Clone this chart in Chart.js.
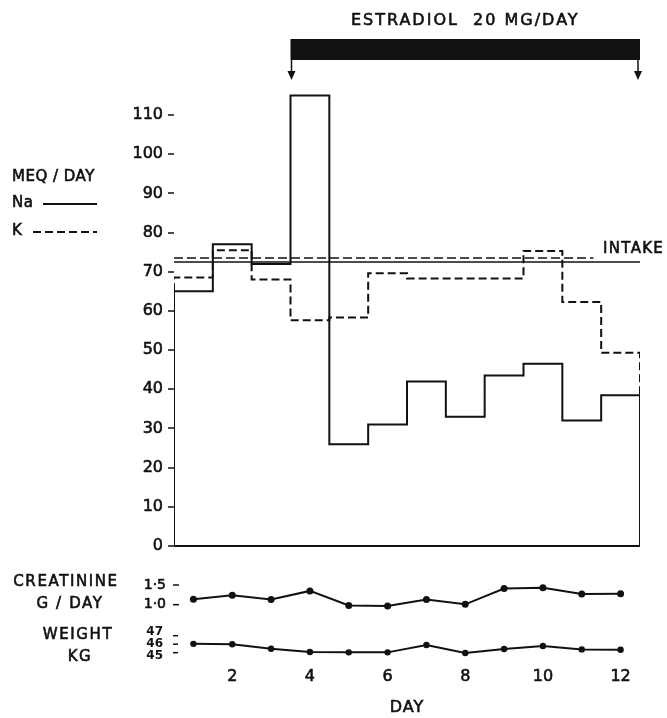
<!DOCTYPE html>
<html>
<head>
<meta charset="utf-8">
<title>Estradiol balance study</title>
<script src="https://cdn.jsdelivr.net/npm/chart.js@4.4.1/dist/chart.umd.min.js"></script>
<style>
  html, body { margin: 0; padding: 0; background: #fff; }
  #wrap { width: 667px; height: 718px; }
</style>
</head>
<body>
<div id="wrap"><canvas id="balanceChart" width="667" height="718"></canvas></div>
<script>
// Study days
const days = [1, 2, 3, 4, 5, 6, 7, 8, 9, 10, 11, 12];
const dayTicks = [2, 4, 6, 8, 10, 12];

// Urinary excretion, mEq/day
const naExcretion = [65, 77, 72, 115, 26, 31, 42, 33, 43.5, 46.5, 32, 38.5];
const kExcretion = [68.5, 75.5, 68, 57.6, 58.3, 69.6, 68.3, 68.3, 68.3, 75.3, 62.3, 49.3];
const meqTicks = [0, 10, 20, 30, 40, 50, 60, 70, 80, 90, 100, 110];

// Dietary intake, mEq/day (K line stops before the label)
const naIntake = 72.5;
const kIntake = 73.5;
const kIntakeEnd = 11.3;

// Creatinine g/day and body weight kg
const creatinine = [1.14, 1.24, 1.13, 1.35, 0.98, 0.97, 1.13, 1.01, 1.41, 1.43, 1.27, 1.28];
const weight = [46.04, 46.0, 45.47, 45.08, 45.04, 45.04, 45.9, 44.96, 45.43, 45.78, 45.39, 45.35];
const creatinineTicks = [1.0, 1.5];
const creatinineTickLabels = ["1·0", "1·5"];
const weightTicks = [45, 46, 47];

// Estradiol 20 mg/day, start of day 4 to end of day 12
const estradiolPeriod = [3.5, 12.5];

// chart area in page pixels
const AREA_TOP = 30;
const AREA_BOTTOM = 662;
const INK = "#111";
const FONT = "'DejaVu Sans', sans-serif";
const TEXT_STROKE = 0.6;

// min/max of an axis so that v1 sits at pixel p1 and v2 at p2
function rangeFor(v1, p1, v2, p2) {
  const perPx = (v2 - v1) / (p1 - p2);
  return { min: v1 - (AREA_BOTTOM - p1) * perPx, max: v1 + (p1 - AREA_TOP) * perPx };
}

function stepPoints(values, startY, endY) {
  const pts = [{ x: days[0] - 0.5, y: startY }];
  values.forEach((v, i) => pts.push({ x: days[i] - 0.5, y: v }));
  pts.push({ x: days[days.length - 1] + 0.5, y: values[values.length - 1] });
  pts.push({ x: days[days.length - 1] + 0.5, y: endY });
  return pts;
}

const meqRange = rangeFor(0, 546, 110, 115);
const creatRange = rangeFor(1.0, 604.7, 1.5, 585);
const weightRange = rangeFor(45, 652.7, 47, 635.7);

const firstX = days[0] - 0.5;
const lastX = days[days.length - 1] + 0.5;

function arrowDown(ctx, x, y0, y1) {
  ctx.beginPath();
  ctx.moveTo(x, y0);
  ctx.lineTo(x, y1 - 6);
  ctx.stroke();
  ctx.beginPath();
  ctx.moveTo(x - 4, y1 - 9);
  ctx.lineTo(x + 4, y1 - 9);
  ctx.lineTo(x, y1);
  ctx.closePath();
  ctx.fill();
}

// filled text with a thin outline, closer to the heavy lettering
function inkText(ctx, text, x, y) {
  ctx.fillText(text, x, y);
  ctx.lineWidth = TEXT_STROKE;
  ctx.strokeText(text, x, y);
}

const labelsPlugin = {
  id: "labels",
  afterDraw(chart) {
    const ctx = chart.ctx;
    const xs = chart.scales.x;
    const ym = chart.scales.y;
    const yc = chart.scales.yc;
    const yw = chart.scales.yw;
    ctx.save();
    ctx.fillStyle = INK;
    ctx.strokeStyle = INK;
    ctx.textBaseline = "middle";

    // estradiol bar with arrows
    const bx0 = xs.getPixelForValue(estradiolPeriod[0]);
    const bx1 = xs.getPixelForValue(estradiolPeriod[1]);
    ctx.fillRect(bx0, 39, bx1 - bx0, 21);
    ctx.lineWidth = 1.5;
    arrowDown(ctx, bx0 + 1, 60, 80);
    arrowDown(ctx, bx1 - 2, 60, 80);
    ctx.font = "16px " + FONT;
    ctx.letterSpacing = "2px";
    ctx.textAlign = "center";
    inkText(ctx, "ESTRADIOL  20 MG/DAY", (bx0 + bx1) / 2, 21);

    // intake label
    ctx.font = "15px " + FONT;
    ctx.letterSpacing = "1.3px";
    ctx.textAlign = "left";
    inkText(ctx, "INTAKE", xs.getPixelForValue(11.55), ym.getPixelForValue(kIntake) - 9);

    // left legend
    ctx.font = "15px " + FONT;
    ctx.letterSpacing = "0.5px";
    inkText(ctx, "MEQ / DAY", 12, 177);
    inkText(ctx, "Na", 12, 203);
    inkText(ctx, "K", 12, 231);
    ctx.lineWidth = 1.8;
    ctx.beginPath();
    ctx.moveTo(43, 204);
    ctx.lineTo(97, 204);
    ctx.stroke();
    ctx.setLineDash([8, 4]);
    ctx.beginPath();
    ctx.moveTo(33, 232);
    ctx.lineTo(97, 232);
    ctx.stroke();
    ctx.setLineDash([]);

    // lower panel titles
    ctx.textAlign = "center";
    ctx.letterSpacing = "1.6px";
    inkText(ctx, "CREATININE", 66, 582);
    inkText(ctx, "G / DAY", 70, 604);
    inkText(ctx, "WEIGHT", 78, 635);
    inkText(ctx, "KG", 80, 657);

    // axis title under the day labels
    ctx.font = "16px " + FONT;
    ctx.letterSpacing = "1px";
    inkText(ctx, "DAY", xs.getPixelForValue(6.5), 708);

    // creatinine and weight tick labels
    ctx.textAlign = "right";
    ctx.letterSpacing = "0px";
    ctx.font = "14px " + FONT;
    creatinineTicks.forEach((v, i) => {
      const py = yc.getPixelForValue(v);
      inkText(ctx, creatinineTickLabels[i], 166, py);
      ctx.lineWidth = 1.5;
      ctx.beginPath();
      ctx.moveTo(173, py);
      ctx.lineTo(179, py);
      ctx.stroke();
    });
    ctx.font = "bold 12px " + FONT;
    const mid = yw.getPixelForValue(46);
    weightTicks.forEach((v) => {
      const py = yw.getPixelForValue(v);
      ctx.fillText(String(v), 163, mid + (46 - v) * 12);
      ctx.lineWidth = 1.5;
      ctx.beginPath();
      ctx.moveTo(173, py);
      ctx.lineTo(178, py);
      ctx.stroke();
    });
    ctx.restore();
  }
};

const stepStyle = { borderColor: INK, borderWidth: 2, pointRadius: 0, stepped: true, fill: false, yAxisID: "y" };
const tickFont = { family: FONT, size: 16 };

new Chart(document.getElementById("balanceChart"), {
  type: "line",
  data: {
    datasets: [
      { ...stepStyle, label: "Na", data: stepPoints(naExcretion, 0, 0) },
      {
        ...stepStyle,
        label: "K",
        borderDash: [8, 4],
        data: stepPoints(kExcretion, naExcretion[0], naExcretion[naExcretion.length - 1])
      },
      {
        label: "Na intake",
        data: [{ x: firstX, y: naIntake }, { x: lastX, y: naIntake }],
        borderColor: INK, borderWidth: 1.6, pointRadius: 0, yAxisID: "y"
      },
      {
        label: "K intake",
        data: [{ x: firstX, y: kIntake }, { x: kIntakeEnd, y: kIntake }],
        borderColor: INK, borderWidth: 1.6, borderDash: [9, 4], pointRadius: 0, yAxisID: "y"
      },
      {
        label: "Creatinine",
        data: days.map((d, i) => ({ x: d, y: creatinine[i] })),
        borderColor: INK, borderWidth: 2, pointRadius: 3.5,
        pointBackgroundColor: INK, pointBorderWidth: 0, yAxisID: "yc"
      },
      {
        label: "Weight",
        data: days.map((d, i) => ({ x: d, y: weight[i] })),
        borderColor: INK, borderWidth: 2, pointRadius: 3.2,
        pointBackgroundColor: INK, pointBorderWidth: 0, yAxisID: "yw"
      }
    ]
  },
  options: {
    responsive: false,
    animation: false,
    layout: { padding: { top: AREA_TOP, right: 27, bottom: 0, left: 0 } },
    plugins: { legend: { display: false }, tooltip: { enabled: false } },
    scales: {
      x: {
        type: "linear",
        min: firstX,
        max: lastX,
        afterBuildTicks: (scale) => { scale.ticks = dayTicks.map((v) => ({ value: v })); },
        afterFit: (scale) => { scale.height = 718 - AREA_BOTTOM; },
        grid: { display: false, drawTicks: false },
        border: { display: false },
        ticks: {
          color: INK, font: tickFont, padding: 5, maxRotation: 0,
          textStrokeColor: INK, textStrokeWidth: TEXT_STROKE
        },
        title: { display: false }
      },
      y: {
        position: "left",
        min: meqRange.min,
        max: meqRange.max,
        afterBuildTicks: (scale) => { scale.ticks = meqTicks.map((v) => ({ value: v })); },
        afterFit: (scale) => { scale.width = 174; },
        border: { display: false },
        grid: {
          drawOnChartArea: true,
          color: (c) => (c.tick && c.tick.value === 0 ? INK : "rgba(0,0,0,0)"),
          lineWidth: 2,
          tickColor: INK,
          tickWidth: 1.5,
          tickLength: 6
        },
        ticks: {
          color: INK, font: tickFont, padding: 5,
          textStrokeColor: INK, textStrokeWidth: TEXT_STROKE
        }
      },
      yc: { display: false, min: creatRange.min, max: creatRange.max },
      yw: { display: false, min: weightRange.min, max: weightRange.max }
    }
  },
  plugins: [labelsPlugin]
});
</script>
</body>
</html>
